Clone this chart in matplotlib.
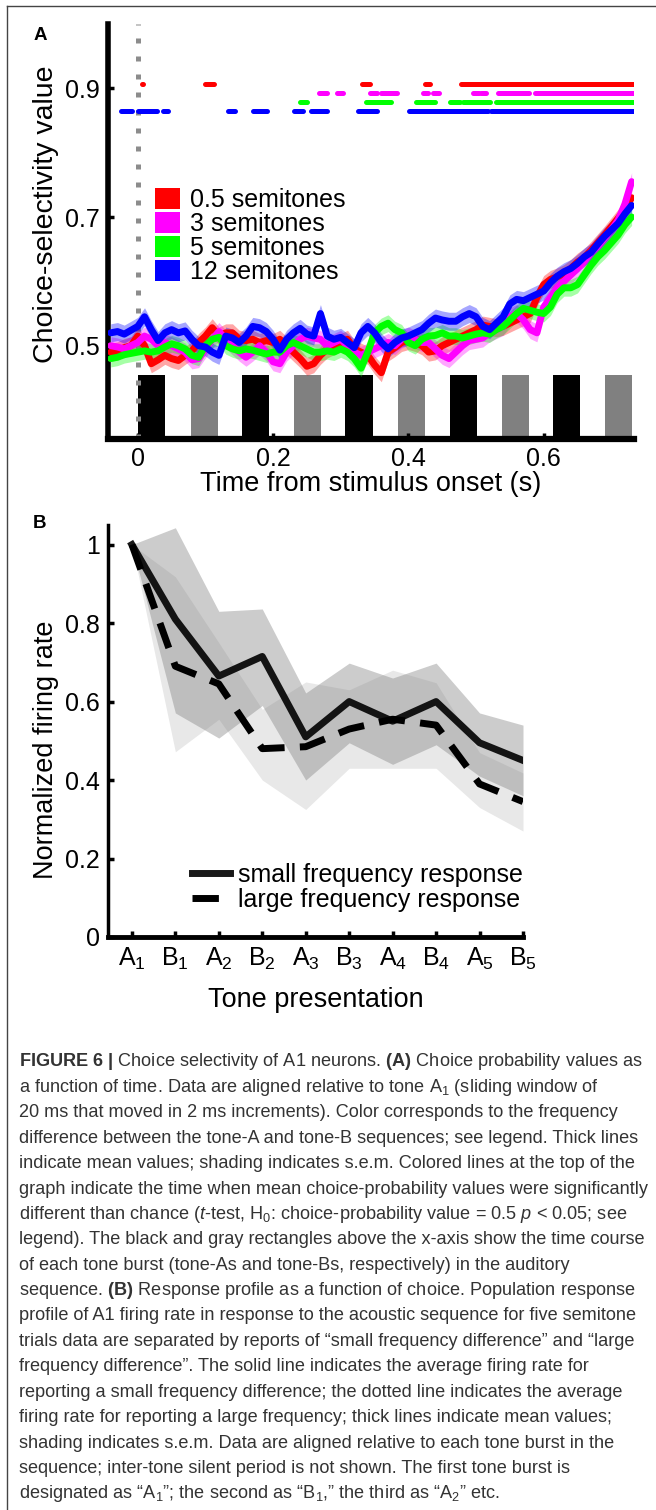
import numpy as np
import matplotlib
matplotlib.use("Agg")
import matplotlib.pyplot as plt
from matplotlib.patches import Patch
from matplotlib.lines import Line2D

FONT = "Liberation Sans"
plt.rcParams["font.family"] = [FONT, "DejaVu Sans"]
plt.rcParams["mathtext.fontset"] = "custom"
plt.rcParams["mathtext.rm"] = FONT
plt.rcParams["mathtext.it"] = FONT + ":italic"
plt.rcParams["mathtext.bf"] = FONT + ":bold"

# ---------------- Panel A data ----------------
time = np.round(np.arange(-0.04, 0.7301, 0.01), 2)

cp_red = [0.490, 0.492, 0.497, 0.500, 0.515, 0.500, 0.472, 0.478, 0.485, 0.480,
          0.477, 0.485, 0.492, 0.505, 0.515, 0.528, 0.515, 0.520, 0.520, 0.510,
          0.508, 0.510, 0.505, 0.508, 0.505, 0.510, 0.500, 0.490, 0.480, 0.468,
          0.472, 0.485, 0.495, 0.500, 0.505, 0.510, 0.495, 0.490, 0.485, 0.470,
          0.458, 0.490, 0.497, 0.505, 0.508, 0.505, 0.500, 0.490, 0.492, 0.500,
          0.505, 0.510, 0.515, 0.520, 0.525, 0.532, 0.530, 0.528, 0.530, 0.535,
          0.540, 0.545, 0.550, 0.575, 0.595, 0.603, 0.607, 0.612, 0.620, 0.630,
          0.637, 0.648, 0.660, 0.672, 0.685, 0.698, 0.712, 0.730]
cp_magenta = [0.500, 0.498, 0.495, 0.500, 0.505, 0.515, 0.510, 0.500, 0.505, 0.500,
              0.495, 0.490, 0.478, 0.480, 0.495, 0.510, 0.522, 0.510, 0.500, 0.490,
              0.482, 0.490, 0.500, 0.490, 0.475, 0.472, 0.490, 0.500, 0.510, 0.515,
              0.512, 0.510, 0.500, 0.505, 0.510, 0.500, 0.490, 0.485, 0.490, 0.495,
              0.500, 0.505, 0.500, 0.510, 0.515, 0.510, 0.505, 0.505, 0.495, 0.485,
              0.480, 0.490, 0.500, 0.508, 0.510, 0.512, 0.520, 0.525, 0.530, 0.545,
              0.550, 0.540, 0.525, 0.520, 0.560, 0.575, 0.590, 0.600, 0.610, 0.620,
              0.632, 0.645, 0.655, 0.668, 0.680, 0.695, 0.720, 0.755]
cp_green = [0.480, 0.482, 0.486, 0.488, 0.490, 0.492, 0.490, 0.492, 0.498, 0.503,
            0.500, 0.495, 0.485, 0.482, 0.500, 0.510, 0.513, 0.500, 0.495, 0.492,
            0.495, 0.493, 0.490, 0.487, 0.490, 0.490, 0.500, 0.505, 0.500, 0.495,
            0.490, 0.490, 0.492, 0.490, 0.495, 0.490, 0.480, 0.465, 0.490, 0.520,
            0.530, 0.535, 0.525, 0.520, 0.505, 0.500, 0.510, 0.515, 0.516, 0.520,
            0.515, 0.515, 0.512, 0.515, 0.518, 0.520, 0.518, 0.525, 0.530, 0.540,
            0.550, 0.558, 0.555, 0.552, 0.550, 0.560, 0.580, 0.590, 0.590, 0.595,
            0.610, 0.625, 0.638, 0.648, 0.660, 0.672, 0.688, 0.700]
cp_blue = [0.520, 0.522, 0.518, 0.524, 0.530, 0.545, 0.525, 0.508, 0.520, 0.525,
           0.520, 0.523, 0.510, 0.500, 0.498, 0.490, 0.485, 0.515, 0.512, 0.505,
           0.515, 0.530, 0.528, 0.522, 0.510, 0.493, 0.510, 0.520, 0.527, 0.518,
           0.515, 0.550, 0.515, 0.510, 0.513, 0.505, 0.497, 0.520, 0.530, 0.520,
           0.505, 0.495, 0.505, 0.512, 0.515, 0.520, 0.525, 0.535, 0.543, 0.540,
           0.538, 0.538, 0.545, 0.550, 0.545, 0.530, 0.525, 0.535, 0.545, 0.565,
           0.572, 0.570, 0.575, 0.580, 0.585, 0.598, 0.608, 0.615, 0.620, 0.628,
           0.638, 0.645, 0.658, 0.670, 0.680, 0.690, 0.705, 0.718]
cp_sem = [0.014, 0.014, 0.013, 0.014]

series_labels = ["0.5 semitones", "3 semitones", "5 semitones", "12 semitones"]
series_colors = ["#ff0000", "#ff00ff", "#00ff00", "#0000ff"]

# significance intervals (s) for each series, and the height they are drawn at
sig_red = [(0.006, 0.008), (0.099, 0.113), (0.332, 0.343), (0.425, 0.432),
           (0.478, 0.735)]
sig_magenta = [(0.268, 0.280), (0.294, 0.303), (0.344, 0.354), (0.359, 0.383),
               (0.422, 0.429), (0.437, 0.446), (0.496, 0.504), (0.507, 0.515),
               (0.532, 0.578), (0.587, 0.735)]
sig_green = [(0.240, 0.250), (0.337, 0.374), (0.412, 0.440), (0.462, 0.477),
             (0.480, 0.520), (0.529, 0.735)]
sig_blue = [(-0.025, -0.009), (0.000, 0.028), (0.037, 0.044), (0.134, 0.143),
            (0.171, 0.191), (0.231, 0.244), (0.256, 0.280), (0.325, 0.353),
            (0.401, 0.424), (0.425, 0.518), (0.522, 0.735)]
sig_levels = [0.907, 0.893, 0.879, 0.865]

tone_a_onsets = [0.000, 0.154, 0.307, 0.461, 0.614]
tone_b_onsets = [0.078, 0.231, 0.384, 0.538, 0.691]
tone_duration = 0.04

# ---------------- Panel B data ----------------
tone_labels = [r"$\mathregular{A_1}$", r"$\mathregular{B_1}$", r"$\mathregular{A_2}$",
               r"$\mathregular{B_2}$", r"$\mathregular{A_3}$", r"$\mathregular{B_3}$",
               r"$\mathregular{A_4}$", r"$\mathregular{B_4}$", r"$\mathregular{A_5}$",
               r"$\mathregular{B_5}$"]
small_mean = [1.00, 0.81, 0.665, 0.715, 0.51, 0.60, 0.55, 0.60, 0.495, 0.45]
small_upper = [1.00, 1.043, 0.83, 0.836, 0.622, 0.698, 0.66, 0.698, 0.571, 0.54]
small_lower = [1.00, 0.571, 0.507, 0.59, 0.40, 0.495, 0.44, 0.49, 0.41, 0.36]
large_mean = [1.00, 0.69, 0.645, 0.48, 0.485, 0.53, 0.555, 0.54, 0.39, 0.345]
large_upper = [1.00, 0.918, 0.75, 0.58, 0.65, 0.63, 0.68, 0.648, 0.47, 0.418]
large_lower = [1.00, 0.472, 0.555, 0.40, 0.325, 0.43, 0.43, 0.43, 0.33, 0.27]

caption_lines = [
    r"$\mathbf{FIGURE\ 6\ |}$ Choice selectivity of A1 neurons. $\mathbf{(A)}$ Choice probability values as",
    r"a function of time. Data are aligned relative to tone $\mathrm{A}_1$ (sliding window of",
    r"20 ms that moved in 2 ms increments). Color corresponds to the frequency",
    r"difference between the tone-A and tone-B sequences; see legend. Thick lines",
    r"indicate mean values; shading indicates s.e.m. Colored lines at the top of the",
    r"graph indicate the time when mean choice-probability values were significantly",
    r"different than chance ($\mathit{t}$-test, $\mathrm{H}_0$: choice-probability value = 0.5 $\mathit{p}$ < 0.05; see",
    r"legend). The black and gray rectangles above the x-axis show the time course",
    r"of each tone burst (tone-As and tone-Bs, respectively) in the auditory",
    r"sequence. $\mathbf{(B)}$ Response profile as a function of choice. Population response",
    r"profile of A1 firing rate in response to the acoustic sequence for five semitone",
    r"trials data are separated by reports of “small frequency difference” and “large",
    r"frequency difference”. The solid line indicates the average firing rate for",
    r"reporting a small frequency difference; the dotted line indicates the average",
    r"firing rate for reporting a large frequency; thick lines indicate mean values;",
    r"shading indicates s.e.m. Data are aligned relative to each tone burst in the",
    r"sequence; inter-tone silent period is not shown. The first tone burst is",
    r"designated as “$\mathrm{A}_1$”; the second as “$\mathrm{B}_1$,” the third as “$\mathrm{A}_2$” etc.",
]

W, H = 656, 1510
fig = plt.figure(figsize=(W / 100, H / 100), dpi=100)


def box(left, top, right, bottom):
    return [left / W, 1 - bottom / H, (right - left) / W, (bottom - top) / H]


# outer frame
fig.add_artist(Line2D([7 / W, 7 / W], [0, 1 - 6 / H], color="#444444", lw=1.0))
fig.add_artist(Line2D([7 / W, 1], [1 - 6 / H, 1 - 6 / H], color="#444444", lw=1.0))

# ================= Panel A =================
axA = fig.add_axes(box(108, 24, 634, 439))
y0A = 0.355
axA.set_xlim(-0.044, 0.7335)
axA.set_ylim(y0A, 1.0)

axA.bar(tone_a_onsets, 0.1, width=tone_duration, bottom=y0A, align="edge",
        color="black", zorder=1)
axA.bar(tone_b_onsets, 0.1, width=tone_duration, bottom=y0A, align="edge",
        color="#808080", zorder=1)
axA.axvline(0, color="#8c8c8c", lw=3.6, dashes=(1.0, 2.6), dash_capstyle="butt",
            zorder=2)

series = [cp_red, cp_magenta, cp_green, cp_blue]
for vals, sem, col in zip(series, cp_sem, series_colors):
    v = np.array(vals)
    axA.fill_between(time, v - sem, v + sem, color=col, alpha=0.35, lw=0, zorder=3)
    axA.plot(time, v, color=col, lw=5, solid_capstyle="round",
             solid_joinstyle="round", zorder=4)

for ints, lev, col in zip([sig_red, sig_magenta, sig_green, sig_blue], sig_levels,
                          series_colors):
    for s, e in ints:
        axA.plot([s, e], [lev, lev], color=col, lw=3.6, solid_capstyle="round",
                 zorder=4)

for side in ["top", "right"]:
    axA.spines[side].set_visible(False)
axA.spines["left"].set_linewidth(4)
axA.spines["bottom"].set_linewidth(4.5)
axA.set_xticks([0, 0.2, 0.4, 0.6])
axA.set_xticklabels(["0", "0.2", "0.4", "0.6"])
axA.set_yticks([0.5, 0.7, 0.9])
axA.set_yticklabels(["0.5", "0.7", "0.9"])
axA.tick_params(direction="in", length=4, width=2.5, labelsize=18, pad=6)
axA.set_xlabel("Time from stimulus onset (s)", fontsize=19.5)
axA.xaxis.set_label_coords(0.5, (439 - 484) / 415)
axA.xaxis.label.set_va("center")
axA.set_ylabel("Choice-selectivity value", fontsize=20.5)
axA.yaxis.set_label_coords((46 - 108) / 526, (439 - 214) / 415)
axA.yaxis.label.set_va("center")

handlesA = [Patch(facecolor=c, edgecolor="none") for c in series_colors]
axA.legend(handlesA, series_labels, loc="upper left",
           bbox_to_anchor=((155 - 108) / 526, (439 - 188) / 415), frameon=False,
           fontsize=18, borderpad=0, borderaxespad=0, handlelength=1.0,
           handleheight=0.88, handletextpad=0.4, labelspacing=0.0)

fig.text(40 / W, 1 - 35 / H, "A", fontsize=13.5, weight="bold", ha="center",
         va="center")

# ================= Panel B =================
axB = fig.add_axes(box(108, 525, 523, 937))
xs = np.arange(len(tone_labels))
axB.set_xlim(-0.55, 9.0)
axB.set_ylim(0, 1.05)
axB.fill_between(xs, large_lower, large_upper, color="0.5", alpha=0.18, lw=0)
axB.fill_between(xs, small_lower, small_upper, color="0.5", alpha=0.4, lw=0)
axB.plot(xs, small_mean, color="black", lw=5, alpha=0.9,
         label="small frequency response")
axB.plot(xs, large_mean, color="black", lw=5, dashes=(3.8, 2.2),
         label="large frequency response")

for side in ["top", "right"]:
    axB.spines[side].set_visible(False)
axB.spines["left"].set_linewidth(2.5)
axB.spines["bottom"].set_linewidth(3.5)
axB.set_xticks(xs)
axB.set_xticklabels(tone_labels)
axB.set_yticks([0, 0.2, 0.4, 0.6, 0.8, 1.0])
axB.set_yticklabels(["0", "0.2", "0.4", "0.6", "0.8", "1"])
axB.tick_params(direction="in", length=4, width=2.5, labelsize=18, pad=6)
axB.set_xlabel("Tone presentation", fontsize=19.5)
axB.xaxis.set_label_coords(0.5, (937 - 1000) / 412)
axB.xaxis.label.set_va("center")
axB.set_ylabel("Normalized firing rate", fontsize=19.5)
axB.yaxis.set_label_coords((46 - 108) / 415, (937 - 750) / 412)
axB.yaxis.label.set_va("center")
axB.legend(loc="lower right", bbox_to_anchor=(1.0, (937 - 912) / 412),
           frameon=False, fontsize=18, borderpad=0, borderaxespad=0,
           handlelength=1.52, handletextpad=0.32, labelspacing=0.05)

fig.text(40 / W, 1 - 524 / H, "B", fontsize=13.5, weight="bold", ha="center",
         va="center")

# ================= Caption =================
for i, line in enumerate(caption_lines):
    fig.text(19 / W, 1 - (1062 + 25.4 * i) / H, line, fontsize=13.1,
             color="#333333", ha="left", va="center")

fig.savefig("out.png", dpi=100)
